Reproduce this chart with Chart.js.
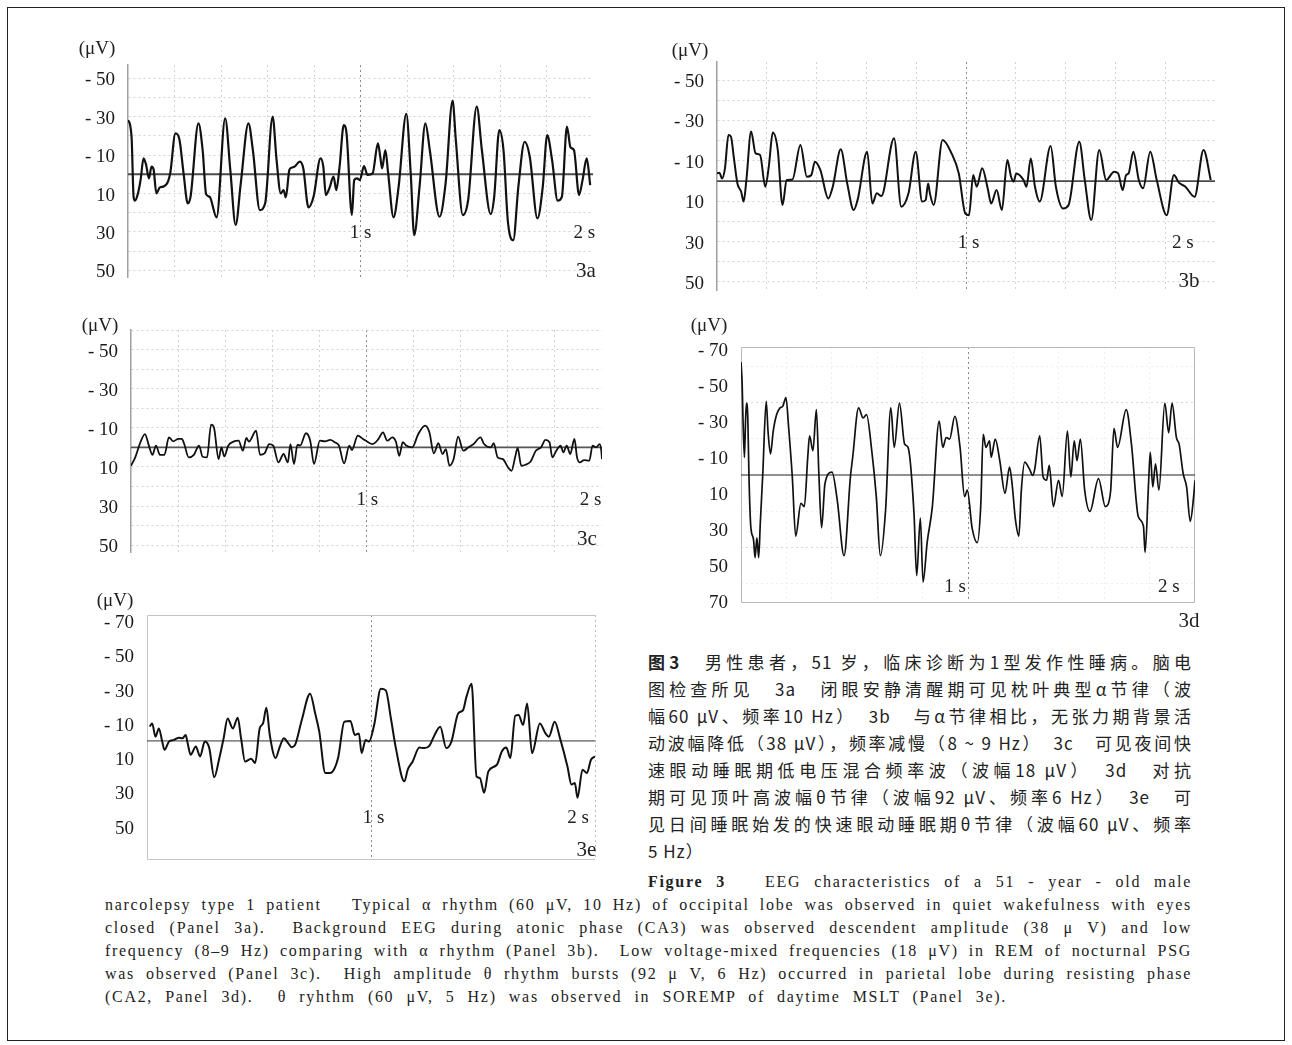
<!DOCTYPE html>
<html>
<head>
<meta charset="utf-8">
<script src="https://cdn.jsdelivr.net/npm/chart.js@4/dist/chart.umd.min.js"></script>
<style>
  body { margin: 0; background: #fff; width: 1292px; height: 1045px; position: relative; overflow: hidden;
         font-family: 'Liberation Serif', serif; color: #222; }
  #frame { position: absolute; left: 7px; top: 7px; width: 1278px; height: 1034px; border: 1px solid #222; box-sizing: border-box; }
  canvas { position: absolute; }
  .unit { position: absolute; font-size: 19px; transform: translate(-50%, -50%); white-space: nowrap; }
  .cn { position: absolute; left: 648px; top: 648px; width: 544px; font-family: 'Noto Sans CJK SC', sans-serif;
        font-size: 17px; line-height: 27px; letter-spacing: 1px; color: #222; }
  .en { position: absolute; font-size: 16px; line-height: 23px; letter-spacing: 1.7px; color: #222; }
  .j { text-align: justify; text-align-last: justify; }
</style>
</head>
<body>
<div id="frame"></div>

<canvas id="c3a"></canvas>
<canvas id="c3b"></canvas>
<canvas id="c3c"></canvas>
<canvas id="c3d"></canvas>
<canvas id="c3e"></canvas>

<div class="unit" style="left:97px;top:48px">(μV)</div>
<div class="unit" style="left:690px;top:50px">(μV)</div>
<div class="unit" style="left:100px;top:325px">(μV)</div>
<div class="unit" style="left:709px;top:325px">(μV)</div>
<div class="unit" style="left:115px;top:600px">(μV)</div>

<div class="cn">
  <div class="j"><b>图3</b>　男性患者，51 岁，临床诊断为1型发作性睡病。脑电</div>
  <div class="j">图检查所见　3a　闭眼安静清醒期可见枕叶典型α节律（波</div>
  <div class="j">幅60 μV、频率10 Hz）　3b　与α节律相比，无张力期背景活</div>
  <div class="j">动波幅降低（38 μV），频率减慢（8 ~ 9 Hz）　3c　可见夜间快</div>
  <div class="j">速眼动睡眠期低电压混合频率波（波幅18 μV）　3d　对抗</div>
  <div class="j">期可见顶叶高波幅θ节律（波幅92 μV、频率6 Hz）　3e　可</div>
  <div class="j">见日间睡眠始发的快速眼动睡眠期θ节律（波幅60 μV、频率</div>
  <div>5 Hz）</div>
</div>

<div class="en j" style="left:648px;top:870px;width:544px"><b>Figure 3</b>&nbsp;&nbsp; EEG characteristics of a 51 - year - old male</div>
<div class="en" style="left:105px;top:893px;width:1087px">
  <div class="j">narcolepsy type 1 patient&nbsp;&nbsp; Typical α rhythm (60 μV, 10 Hz) of occipital lobe was observed in quiet wakefulness with eyes</div>
  <div class="j">closed (Panel 3a).&nbsp; Background EEG during atonic phase (CA3) was observed descendent amplitude (38 μ V) and low</div>
  <div class="j">frequency (8–9 Hz) comparing with α rhythm (Panel 3b).&nbsp; Low voltage-mixed frequencies (18 μV) in REM of nocturnal PSG</div>
  <div class="j">was observed (Panel 3c).&nbsp; High amplitude θ rhythm bursts (92 μ V, 6 Hz) occurred in parietal lobe during resisting phase</div>
  <div class="j" style="width:902px">(CA2, Panel 3d).&nbsp; θ ryhthm (60 μV, 5 Hz) was observed in SOREMP of daytime MSLT (Panel 3e).</div>
</div>

<script>
// tick labels shown on the y axes
const ticks50 = [-50, -30, -10, 10, 30, 50];
const ticks70 = [-70, -50, -30, -10, 10, 30, 50, 70];

// 3a: occipital alpha rhythm, time in ms, amplitude in μV (negative up)
const timeA = [0, 9, 16, 24, 30, 42, 54, 67, 78, 90, 101, 110, 122, 137, 152, 172, 182, 204, 221, 239,
  257, 269, 303, 321, 336, 351, 381, 418, 440, 463, 485, 518, 537, 567, 590, 622, 639, 657, 669, 679,
  694, 704, 716, 739, 754, 776, 798, 828, 840, 851, 866, 884, 896, 910, 928, 940, 963, 973, 985, 997,
  1015, 1030, 1052, 1075, 1085, 1093, 1107, 1119, 1142, 1164, 1197, 1216, 1231, 1254, 1279, 1298, 1340, 1366, 1396, 1410,
  1440, 1463, 1500, 1522, 1560, 1575, 1597, 1615, 1634, 1657, 1679, 1706, 1728, 1761, 1784, 1803, 1824, 1848, 1866, 1888,
  1903, 1918, 1940, 1955, 1973, 1988];
const voltA = [-28.3, -25.7, -17.9, 11.7, 13.7, 10.3, 3.0, -8.3, -4.9, 2.1, -4.0, -2.6, 9.9, 6.8, 6.4, 3.8, -0.9, -21.4, -18.3, -0.5,
  15.1, 11.7, -26.6, -12.7, 10.3, 11.7, 22.4, -29.2, -2.3, 26.4, 4.7, -26.6, -12.7, 18.6, 15.1, -30.1, -7.5, 9.9, 8.2, 12.0,
  -2.3, -3.5, -4.0, -6.6, -3.1, 17.2, 11.7, -8.3, -4.0, 10.8, 7.3, 1.2, 8.2, -4.0, -25.7, -21.4, 21.2, 3.0, 2.1, 3.0,
  -4.3, 0.3, -0.5, -16.2, -9.2, -3.1, -12.7, -0.5, 22.4, 6.4, -31.5, -0.5, 31.7, 6.4, -26.6, -12.7, 22.1, 4.7, -38.4, -17.9,
  21.2, 13.4, -35.3, -12.7, 20.7, 11.7, -23.1, -12.7, 24.7, 34.3, 6.4, -17.0, -9.2, 23.0, 6.4, -20.5, -7.5, 13.7, 11.7, -24.9,
  -14.1, -12.7, 10.8, 3.0, -8.3, 5.6];

// 3b: atonic phase background
const timeB = [0, 10, 20, 32, 46, 56, 68, 82, 97, 107, 118, 137, 155, 173, 194, 208, 224, 244, 263, 280,
  303, 335, 361, 379, 393, 415, 447, 465, 497, 523, 549, 566, 603, 624, 642, 660, 711, 740, 769, 798,
  824, 838, 848, 855, 870, 906, 942, 971, 997, 1012, 1029, 1043, 1065, 1087, 1101, 1123, 1144, 1166, 1181, 1191,
  1202, 1231, 1243, 1260, 1277, 1296, 1340, 1361, 1390, 1412, 1455, 1477, 1503, 1535, 1563, 1595, 1611, 1629, 1643, 1653,
  1672, 1694, 1711, 1740, 1766, 1806, 1835, 1855, 1881, 1918, 1954, 1983];
const voltB = [-3.8, -4.1, -1.3, -6.3, -22.8, -22.0, -11.2, 1.2, 5.3, 10.2, -0.5, -24.5, -13.7, -12.9, 2.8, -7.1, -24.0, -15.4, 11.9, -0.5,
  -0.8, -17.9, -2.1, -3.0, -9.6, -5.5, 8.6, 2.8, -15.7, 1.2, 14.4, 8.6, -14.5, 11.1, 6.1, 7.4, -21.2, 12.7, 6.1, -14.5,
  10.2, 9.4, 1.2, 6.1, 11.9, -20.3, -13.7, -3.8, 16.0, 16.9, -3.0, 2.8, -6.3, 3.6, 11.1, 4.5, 14.4, -10.4, -2.1, 0.3,
  -3.8, -0.5, 2.8, -11.2, 2.8, 10.2, -17.4, 2.8, 13.6, 11.9, -19.5, -0.5, 19.3, -15.4, -0.5, -4.6, -3.8, 4.5, -3.0, -3.8,
  -14.5, -0.5, 3.6, -14.5, -0.5, 16.9, -3.0, 0.8, 2.8, 7.8, -15.4, -0.5];

// 3c: REM low voltage mixed frequency
const timeC = [0, 18, 40, 59, 76, 91, 106, 123, 142, 161, 179, 201, 216, 226, 245, 267, 289, 304, 323, 340,
  352, 372, 384, 396, 413, 435, 457, 475, 490, 501, 531, 548, 567, 587, 604, 626, 648, 666, 677, 692,
  707, 718, 743, 761, 777, 802, 824, 846, 865, 883, 905, 927, 938, 963, 985, 1007, 1026, 1051, 1070, 1088,
  1110, 1125, 1139, 1154, 1169, 1194, 1220, 1249, 1267, 1286, 1305, 1323, 1337, 1352, 1370, 1389, 1411, 1433, 1455, 1484,
  1499, 1528, 1540, 1557, 1579, 1601, 1616, 1631, 1642, 1657, 1675, 1697, 1719, 1741, 1760, 1777, 1789, 1806, 1824, 1836,
  1850, 1865, 1883, 1894, 1906, 1924, 1946, 1960, 1975, 1990, 1997, 2000];
const voltC = [9.4, 5.1, -2.6, -6.8, -0.9, 3.8, -0.9, 3.8, 3.8, -5.1, -3.1, -4.3, -4.3, -1.7, 5.1, 3.8, -0.9, 4.8, 5.1, -11.6,
  -10.3, 6.0, 0.0, 4.6, -0.9, -2.9, -3.4, 1.7, -4.8, -2.9, -8.5, 3.8, 3.1, -1.7, -0.9, 7.7, 3.4, 7.7, -1.7, 8.5,
  -1.4, -0.9, -7.2, -3.4, 8.5, -3.4, -3.1, -3.8, -2.6, -0.9, 8.2, -0.9, 1.4, -6.0, -4.3, -2.6, -1.7, -4.3, -7.7, -3.4,
  -5.1, -2.9, 4.3, -2.6, -0.9, 0.0, -6.8, -11.1, -7.7, 3.1, -2.1, 3.4, 0.9, 9.4, 6.0, -5.5, 1.7, 0.0, -1.7, -5.1,
  -1.7, 0.0, -2.1, 5.1, 6.0, 10.3, 12.0, 5.1, 0.3, 9.4, 8.9, 7.2, 1.7, 0.0, -3.8, -2.6, 5.1, 1.7, -0.9, 2.6,
  -0.9, 3.4, -4.3, 5.1, 7.7, 6.5, 6.8, -0.9, 0.0, -1.7, 1.7, 6.0];

// 3d: parietal theta bursts, resisting phase
const timeD = [0, 5, 9, 15, 20, 24, 30, 35, 43, 55, 62, 70, 78, 85, 96, 111, 119, 130, 142, 157,
  172, 184, 198, 210, 226, 241, 264, 279, 294, 302, 317, 332, 343, 355, 370, 401, 424, 454, 482, 492,
  518, 538, 553, 576, 596, 614, 637, 660, 675, 698, 721, 736, 762, 774, 790, 802, 820, 843, 873, 889,
  904, 919, 942, 965, 985, 997, 1018, 1041, 1056, 1067, 1079, 1095, 1102, 1120, 1140, 1163, 1183, 1194, 1209, 1224,
  1235, 1250, 1270, 1285, 1293, 1316, 1331, 1346, 1358, 1376, 1399, 1415, 1438, 1453, 1468, 1480, 1495, 1514, 1537, 1575,
  1605, 1628, 1643, 1659, 1697, 1720, 1750, 1773, 1780, 1796, 1803, 1814, 1826, 1841, 1867, 1884, 1899, 1918, 1930, 1948,
  1963, 1979, 1994, 2000];
const voltD = [-62.7, -50.9, -29.9, -9.8, -29.9, -39.9, -31.7, 0.2, 28.4, 35.7, 45.8, 34.8, 45.8, 26.6, -0.7, -40.8, -24.4, -11.7, -24.4, -33.5,
  -37.2, -38.1, -43.0, -26.2, 1.1, 33.9, 15.7, 17.5, -9.8, -21.7, -13.5, -36.3, -0.7, 29.3, 4.7, -1.6, 13.9, 44.8, 1.1, -9.8,
  -37.2, -31.7, -33.5, -13.5, 12.0, 44.8, 19.3, -37.2, -15.3, -39.9, -17.1, -15.3, 21.1, 55.8, 23.9, 59.4, 37.5, 17.5, -29.9, -15.3,
  -20.8, -19.9, -32.6, -15.3, 12.0, 8.4, 29.3, 37.5, 17.5, -22.6, -15.3, -19.0, -9.8, -19.9, -8.0, 10.2, -4.4, 4.7, 24.8, 33.9,
  8.4, -7.1, -3.5, 0.2, -2.6, -21.7, 1.1, 2.9, -5.3, 17.5, 2.9, 12.0, -24.4, 1.1, -19.0, -8.0, -19.9, 8.4, 20.2, 2.0,
  17.5, 9.3, -25.9, -15.3, -36.3, -17.1, 23.0, 28.4, 43.0, 2.9, -12.6, 6.6, -6.2, 8.4, -39.9, -23.5, -39.9, -20.8, -17.1, -0.7,
  6.6, 25.7, 12.0, 2.9];

// 3e: daytime SOREMP theta rhythm
const timeE = [12, 23, 38, 53, 68, 78, 98, 120, 143, 158, 173, 180, 195, 218, 237, 258, 278, 300, 323, 342,
  360, 383, 405, 420, 438, 465, 483, 503, 518, 533, 548, 574, 593, 611, 631, 646, 661, 691, 728, 751,
  769, 796, 818, 853, 881, 908, 928, 946, 958, 976, 991, 1014, 1044, 1066, 1089, 1111, 1149, 1164, 1186, 1216,
  1239, 1261, 1284, 1309, 1336, 1359, 1389, 1411, 1426, 1449, 1471, 1486, 1505, 1524, 1562, 1584, 1604, 1622, 1644, 1659,
  1679, 1697, 1719, 1754, 1779, 1794, 1820, 1844, 1877, 1895, 1910, 1922, 1944, 1964, 1982, 2000];
const voltE = [-8.3, -10.2, -2.5, -7.3, 0.4, 5.2, 0.4, -0.6, -1.9, -1.5, -3.5, 0.4, 8.1, 3.3, 9.1, 0.4, 4.2, 21.2, 10.0, -1.5,
  -13.1, -7.3, -13.5, -1.5, 12.0, 10.4, 12.9, -7.3, -10.2, -19.3, -3.5, 10.0, 3.3, -1.5, 1.4, 3.7, 2.3, -12.2, -27.6, -16.0,
  -5.4, 18.7, 18.7, 10.0, -11.2, -11.6, -3.5, -4.4, 7.1, -0.6, 0.4, -9.3, -30.5, -29.5, -13.1, 4.2, 23.6, 16.8, 12.0, 3.9,
  4.2, 2.7, -3.5, -8.3, 4.2, 0.4, -16.0, -18.0, -25.7, -33.4, 20.7, 21.6, 30.3, 17.8, 13.9, 6.2, 3.9, 10.0, -14.7, -15.1,
  -9.3, -21.8, 7.1, -10.2, -4.4, -2.5, -11.2, -1.5, 14.9, 25.5, 24.5, 33.2, 16.8, 18.7, 11.0, 9.1];

const YW = 50, PT = 28, PB = 32, PR = 14;
const fmt = v => v < 0 ? '- ' + Math.abs(v) : String(v);
const near = (a, b) => Math.abs(a - b) < 1e-6;

const panelText = {
  id: 'panelText',
  beforeDatasetsDraw(chart, args, opts) {
    const a = chart.chartArea, ctx = chart.ctx;
    if (!opts.frame) return;
    ctx.save();
    ctx.strokeStyle = opts.frame;
    ctx.lineWidth = 1;
    ctx.beginPath();
    if (opts.openRight) {
      ctx.moveTo(a.right, a.top + 0.5); ctx.lineTo(a.left + 0.5, a.top + 0.5);
      ctx.lineTo(a.left + 0.5, a.bottom - 0.5); ctx.lineTo(a.right, a.bottom - 0.5);
    } else {
      ctx.rect(a.left + 0.5, a.top + 0.5, a.width - 1, a.height - 1);
    }
    ctx.stroke();
    ctx.restore();
  },
  afterDraw(chart, args, opts) {
    const {ctx, scales: {x, y}} = chart;
    ctx.save();
    ctx.fillStyle = '#222';
    ctx.textAlign = 'center';
    ctx.textBaseline = 'middle';
    (opts.items || []).forEach(it => {
      ctx.font = (it[3] || '19px') + " 'Liberation Serif', serif";
      ctx.fillText(it[0], x.getPixelForValue(it[1]), y.getPixelForValue(it[2]));
    });
    ctx.restore();
  }
};

function drawPanel(p) {
  const cv = document.getElementById(p.id);
  cv.width = YW + (p.R - p.L) + PR;
  cv.height = PT + (p.B - p.T) + PB;
  cv.style.left = (p.L - YW) + 'px';
  cv.style.top = (p.T - PT) + 'px';

  const boxed = p.kind !== 'grid';
  new Chart(cv.getContext('2d'), {
    type: 'line',
    data: {
      datasets: [{
        data: p.time.map((t, i) => ({x: t / 1000, y: p.volt[i]})),
        borderColor: '#111',
        borderWidth: p.traceW,
        pointRadius: 0,
        cubicInterpolationMode: 'monotone',
        fill: false
      }, {
        data: [{x: 0, y: 0}, {x: 2, y: 0}],
        borderColor: p.zeroColor,
        borderWidth: p.zeroW,
        pointRadius: 0,
        fill: false
      }]
    },
    options: {
      responsive: false,
      animation: false,
      events: [],
      layout: {padding: {top: PT, right: PR, bottom: PB, left: 0}},
      plugins: {
        legend: {display: false},
        tooltip: {enabled: false},
        panelText: {items: p.labels, frame: p.frame, openRight: p.openRight}
      },
      scales: {
        x: {
          type: 'linear', min: 0, max: 2,
          ticks: {display: false, stepSize: 0.2, autoSkip: false},
          grid: {
            drawTicks: false,
            lineWidth: 1,
            color: c => {
              const v = c.tick ? c.tick.value : -1;
              if (near(v, 1)) return '#8a8a8a';
              if (near(v, 2)) return p.kind === 'open' ? '#bbbbbb' : 'rgba(0,0,0,0)';
              if (near(v, 0)) return 'rgba(0,0,0,0)';
              return p.xGrid;
            }
          },
          border: {display: false, dash: [2, 3]},
          afterFit: s => { s.height = 0; }
        },
        y: {
          type: 'linear', reverse: true, min: p.ymin, max: p.ymax,
          ticks: {
            stepSize: 10, includeBounds: false, autoSkip: false, padding: 13, labelOffset: 2,
            color: '#1a1a1a', font: {family: "'Liberation Serif', serif", size: 19},
            callback: v => p.tickSet.includes(v) ? fmt(v) : ''
          },
          grid: {
            drawTicks: false,
            lineWidth: 1,
            color: c => {
              const v = c.tick ? c.tick.value : 0;
              return p.yGrid(v);
            }
          },
          border: {display: !boxed, color: '#a0a0a0', width: 1.5, dash: [2, 3]},
          afterFit: s => { s.width = YW; }
        }
      }
    },
    plugins: [panelText]
  });
}

const gridTen = v => (v !== 0 && v % 10 === 0) ? '#d2d2d2' : 'rgba(0,0,0,0)';

drawPanel({id: 'c3a', kind: 'grid', L: 128, R: 593, T: 65, B: 277, ymin: -57, ymax: 53.5,
  time: timeA, volt: voltA, tickSet: ticks50, traceW: 2.2, zeroColor: '#4a4a4a', zeroW: 2,
  xGrid: '#d2d2d2', yGrid: gridTen,
  labels: [['1 s', 1.0, 30.6], ['2 s', 1.963, 30.6], ['3a', 1.97, 50.4, '21px']]});

drawPanel({id: 'c3b', kind: 'grid', L: 717, R: 1215, T: 62, B: 290, ymin: -59, ymax: 54,
  time: timeB, volt: voltB, tickSet: ticks50, traceW: 2, zeroColor: '#4a4a4a', zeroW: 1.8,
  xGrid: '#d2d2d2', yGrid: gridTen,
  labels: [['1 s', 1.01, 30.7], ['2 s', 1.871, 30.7], ['3b', 1.896, 49.6, '21px']]});

drawPanel({id: 'c3c', kind: 'grid', L: 131, R: 602, T: 330, B: 552, ymin: -60, ymax: 53.5,
  time: timeC, volt: voltC, tickSet: ticks50, traceW: 1.8, zeroColor: '#555', zeroW: 1.6,
  xGrid: '#d2d2d2', yGrid: gridTen,
  labels: [['1 s', 1.004, 26.9], ['2 s', 1.951, 26.9], ['3c', 1.936, 47.3, '21px']]});

drawPanel({id: 'c3d', kind: 'box', L: 741, R: 1195, T: 347, B: 603, ymin: -71, ymax: 71,
  time: timeD, volt: voltD, tickSet: ticks70, traceW: 1.7, zeroColor: '#222', zeroW: 1.2,
  xGrid: '#eeeeee', frame: '#b8b8b8',
  yGrid: v => Math.abs(v) === 40 ? '#d8d8d8' : ((v !== 0 && Math.abs(v) % 20 === 0) ? '#eeeeee' : 'rgba(0,0,0,0)'),
  labels: [['1 s', 0.943, 62.1], ['2 s', 1.885, 62.1], ['3d', 1.974, 81, '21px']]});

drawPanel({id: 'c3e', kind: 'open', L: 147, R: 595, T: 615, B: 860, ymin: -73.5, ymax: 69.5,
  time: timeE, volt: voltE, tickSet: ticks70, traceW: 2, zeroColor: '#333', zeroW: 1,
  xGrid: 'rgba(0,0,0,0)', frame: '#c4c4c4', openRight: true,
  yGrid: v => 'rgba(0,0,0,0)',
  labels: [['1 s', 1.011, 45], ['2 s', 1.924, 45], ['3e', 1.962, 64.2, '21px']]});
</script>
</body>
</html>
